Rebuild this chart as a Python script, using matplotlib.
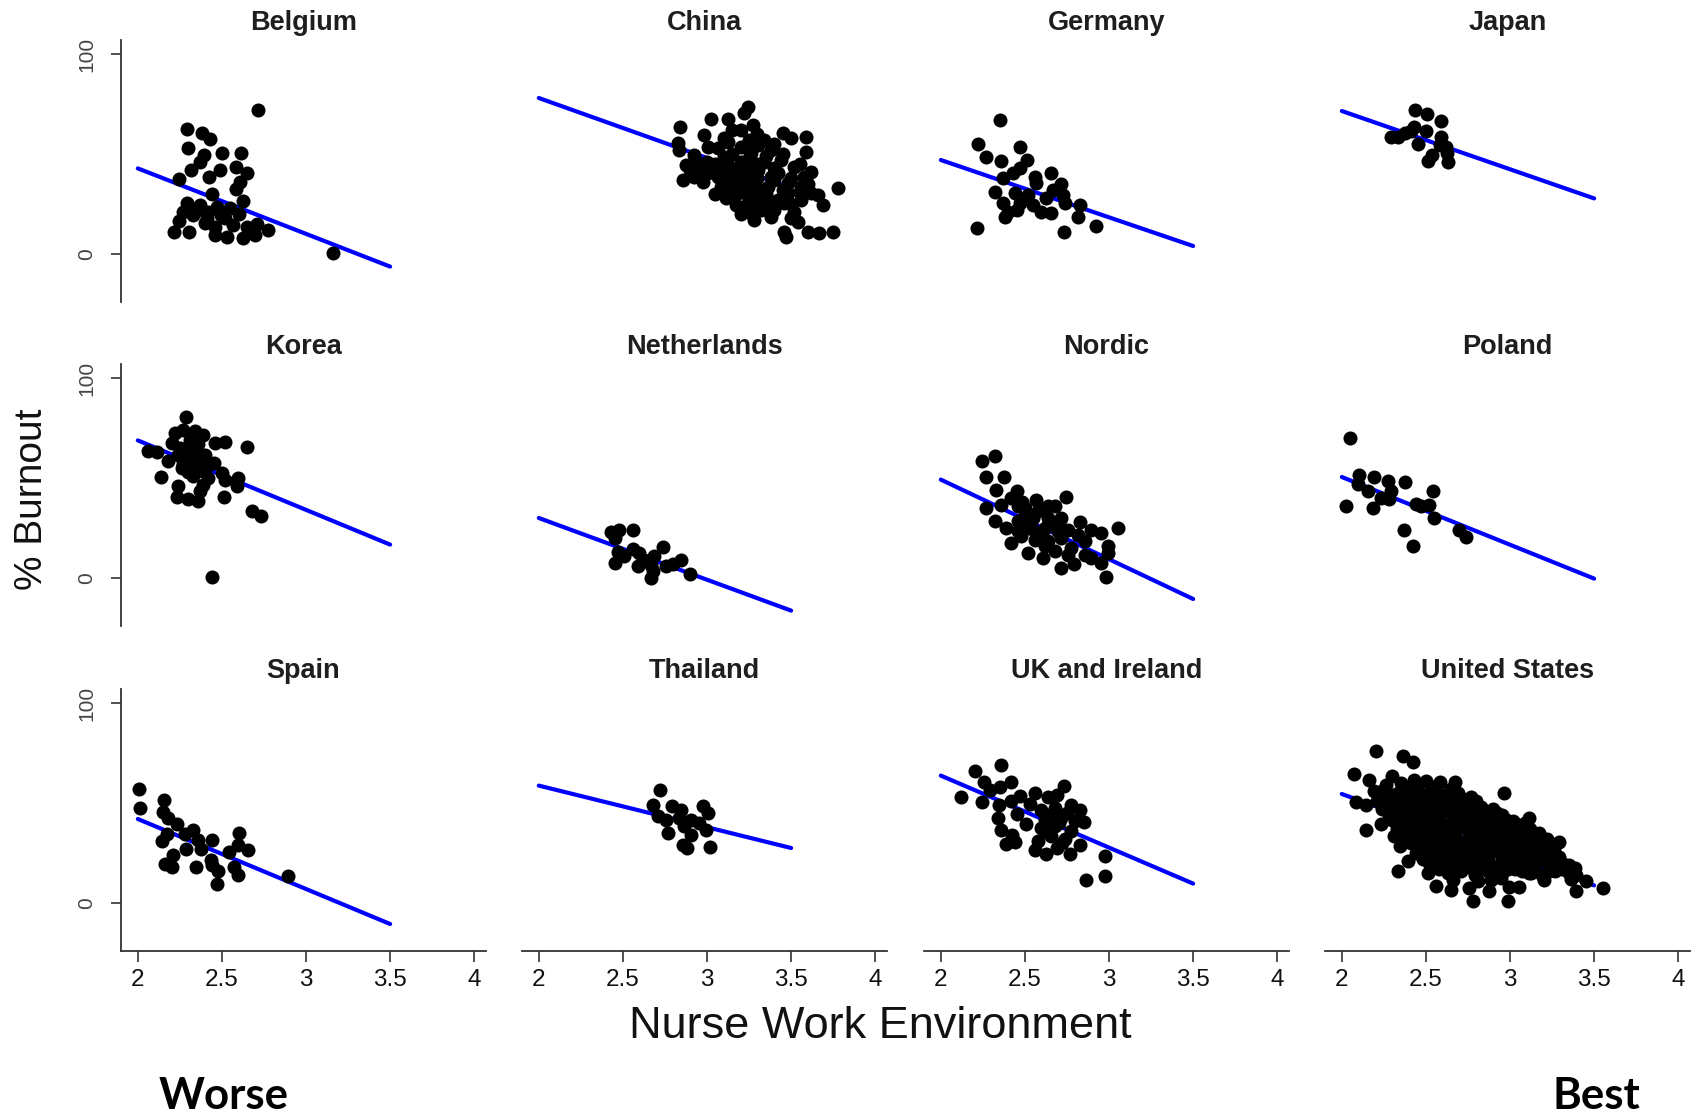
# Burnout vs nurse work environment, one panel per country

import matplotlib.pyplot as plt

countries = ['Belgium', 'China', 'Germany', 'Japan',
             'Korea', 'Netherlands', 'Nordic', 'Poland',
             'Spain', 'Thailand', 'UK and Ireland', 'United States']

belgium = [(2.717, 72), (3.162, 0.7), (2.291, 62.5), (2.384, 60.3), (2.43, 57.3),
           (2.297, 52.8), (2.396, 49.5), (2.37, 46), (2.503, 50.3), (2.614, 50.3),
           (2.317, 42), (2.242, 37.5), (2.426, 38.7), (2.489, 42), (2.582, 43.3),
           (2.648, 40.3), (2.608, 36), (2.582, 32.3), (2.44, 29.8), (2.628, 26.5),
           (2.291, 25.7), (2.37, 24.5), (2.47, 23.7), (2.549, 22.8), (2.242, 16.7),
           (2.33, 19.5), (2.41, 17.8), (2.495, 19.5), (2.218, 11.2), (2.305, 11.2),
           (2.46, 9.5), (2.53, 8.7), (2.628, 7.8), (2.697, 9.5), (2.772, 12),
           (2.568, 14.5), (2.648, 13.7), (2.707, 15), (2.46, 13.7), (2.4, 15.3),
           (2.35, 22), (2.52, 18), (2.6, 20), (2.42, 21), (2.27, 21)]

china = [(3.242, 73.7), (3.222, 70.3), (3.024, 67.3), (3.127, 67.3), (2.842, 63.7),
         (3.271, 64.5), (3.202, 62), (2.98, 59.5), (3.45, 60.3), (3.588, 58.3),
         (3.5, 57.8), (3.341, 57), (3.127, 56.2), (2.826, 55.3), (3.063, 52.8),
         (3.588, 51.2), (2.836, 52), (2.925, 49.5), (3.261, 50.3), (3.38, 52),
         (2.875, 44.5), (2.945, 45.3), (3.123, 44.5), (3.519, 43.7), (2.855, 37),
         (2.974, 36.2), (3.063, 38.7), (3.162, 40.3), (3.301, 42), (3.42, 40.3),
         (3.261, 36.2), (3.36, 33.7), (3.48, 35.3), (3.558, 33.7), (3.776, 32.8),
         (3.113, 27.8), (3.182, 30.3), (3.301, 28.7), (3.42, 27), (3.618, 30.3),
         (3.657, 29.5), (3.172, 24.5), (3.261, 20.3), (3.38, 18.7), (3.519, 21.2),
         (3.687, 24.5), (3.46, 11.2), (3.469, 8.3), (3.539, 16.2), (3.598, 11.2),
         (3.667, 10.3), (3.747, 11.2), (3.083, 33.7), (3.004, 40.3), (3.222, 45.3),
         (3.341, 46.2), (3.44, 47), (3.301, 54.5), (3.202, 53.7), (3.004, 53.7),
         (3.103, 48.7), (3.38, 38.7), (3.321, 32), (3.242, 25.3), (3.38, 23.7),
         (3.46, 25.3), (3.558, 27), (3.578, 38.7), (3.48, 30.3), (3.202, 33.7),
         (3.143, 36.2), (3.261, 41.2), (3.36, 27), (3.321, 22), (2.925, 38.7),
         (2.974, 41.2), (3.05, 45), (3.2, 46), (3.4, 43), (3.5, 38), (3.45, 50),
         (3.15, 50), (3.25, 48), (3.35, 49), (3.1, 42), (3.2, 43), (3.3, 45),
         (3.4, 37), (3.3, 38), (3.2, 38), (3.1, 37), (3.15, 31), (3.25, 33),
         (3.35, 30), (3.45, 32), (3.4, 22), (3.3, 25), (3.25, 28), (3.45, 28),
         (3.5, 25), (3.55, 31), (3.6, 35), (3.05, 30), (3.0, 46), (2.9, 42),
         (3.1, 58), (3.25, 57), (3.15, 62), (3.3, 60), (3.4, 55), (3.55, 45),
         (3.62, 41), (3.2, 20), (3.28, 17), (3.5, 18)]

germany = [(2.354, 67), (2.222, 54.8), (2.469, 53.7), (2.271, 48.7), (2.36, 46.7),
           (2.515, 47), (2.469, 42.8), (2.43, 40.7), (2.37, 37.8), (2.558, 38.7),
           (2.657, 40.3), (2.713, 35), (2.568, 35.3), (2.321, 30.8), (2.44, 30.3),
           (2.519, 29.5), (2.667, 32), (2.727, 29.5), (2.37, 25.3), (2.469, 25.3),
           (2.549, 24.5), (2.628, 27.8), (2.737, 25.7), (2.826, 24.5), (2.4, 21.2),
           (2.45, 22), (2.598, 21.2), (2.657, 20.3), (2.384, 18.7), (2.816, 18.7),
           (2.218, 12.8), (2.731, 10.8), (2.925, 14)]

japan = [(2.438, 72), (2.505, 69.8), (2.59, 66.5), (2.432, 63.3), (2.501, 61.7),
         (2.293, 58.7), (2.333, 58.3), (2.376, 60.3), (2.412, 61.7), (2.59, 58.3),
         (2.452, 55), (2.62, 53.7), (2.586, 54.5), (2.535, 49.5), (2.511, 46.5),
         (2.626, 50.3), (2.63, 46.2)]

korea = [(2.287, 80.3), (2.44, 0.3), (2.222, 72.5), (2.271, 74.2), (2.341, 73.3),
         (2.39, 71.7), (2.202, 67.5), (2.31, 69.2), (2.46, 67.5), (2.519, 68),
         (2.651, 65.3), (2.063, 63.3), (2.113, 63), (2.182, 58.7), (2.241, 61.7),
         (2.341, 63.3), (2.4, 61.7), (2.261, 55), (2.32, 58.3), (2.45, 57.5),
         (2.36, 53.3), (2.41, 55.8), (2.499, 52.5), (2.331, 50.8), (2.137, 50.3),
         (2.519, 49.2), (2.598, 50), (2.588, 45.8), (2.238, 46.2), (2.39, 46.7),
         (2.37, 43.3), (2.234, 40.3), (2.301, 39.7), (2.36, 38.7), (2.515, 40.5),
         (2.677, 33.7), (2.731, 30.8), (2.29, 65), (2.36, 67), (2.28, 60),
         (2.25, 65), (2.33, 62), (2.38, 58), (2.3, 53), (2.42, 50), (2.27, 57)]

netherlands = [(2.43, 23), (2.479, 24.2), (2.558, 23.8), (2.45, 20), (2.737, 15.5),
               (2.558, 14.7), (2.469, 13), (2.509, 10.8), (2.598, 12.5), (2.687, 10.8),
               (2.628, 9.2), (2.846, 9.2), (2.45, 7.5), (2.588, 5.8), (2.667, 6.3),
               (2.756, 5.8), (2.796, 7), (2.677, 3.3), (2.667, 0), (2.901, 2.2)]

nordic = [(2.242, 58.3), (2.321, 60.8), (2.271, 50.3), (2.376, 50.3), (2.331, 44.2),
          (2.45, 43.3), (2.271, 35), (2.568, 39.2), (2.747, 40.3), (2.36, 36.7),
          (2.459, 35.8), (2.677, 35.8), (2.321, 28.7), (2.39, 25), (2.499, 31.7),
          (2.578, 33.3), (2.638, 30), (2.717, 30), (2.826, 27.8), (2.519, 25),
          (2.618, 25), (2.757, 24.2), (2.895, 24.2), (3.053, 25), (2.955, 22.5),
          (2.42, 17.5), (2.479, 20.8), (2.558, 19.2), (2.638, 18.3), (2.713, 20),
          (2.857, 18.3), (2.994, 15.8), (2.519, 12.5), (2.608, 10), (2.677, 13.3),
          (2.776, 15), (2.855, 11.7), (2.955, 7.5), (2.895, 10), (2.717, 5),
          (2.792, 7), (2.984, 0.3), (2.994, 12.5), (2.459, 28.3), (2.539, 28.3),
          (2.638, 26.7), (2.558, 23.3), (2.697, 23.3), (2.459, 23.3), (2.618, 15.8),
          (2.757, 11.7), (2.42, 40), (2.499, 35), (2.638, 35.8), (2.816, 21.7),
          (2.55, 30), (2.6, 22), (2.7, 28), (2.48, 38)]

poland = [(2.051, 70), (2.105, 51.7), (2.19, 50.3), (2.099, 47), (2.026, 35.8),
          (2.154, 43.3), (2.273, 48.7), (2.376, 47.8), (2.293, 43.3), (2.234, 40),
          (2.184, 35), (2.283, 39.7), (2.541, 43.3), (2.442, 37), (2.521, 36.3),
          (2.471, 35.8), (2.547, 30), (2.372, 24.2), (2.426, 16.2), (2.699, 24.2),
          (2.739, 20.3)]

spain = [(2.008, 57), (2.014, 47.5), (2.158, 51.7), (2.152, 45.3), (2.182, 42.5),
         (2.232, 39.7), (2.172, 34.7), (2.143, 30.8), (2.281, 34.7), (2.331, 36.3),
         (2.36, 31.3), (2.287, 27), (2.376, 27), (2.44, 31.7), (2.212, 24.2),
         (2.162, 19.5), (2.202, 17.8), (2.347, 18), (2.436, 21.7), (2.44, 19.2),
         (2.479, 15.8), (2.469, 9.7), (2.543, 25.3), (2.602, 35), (2.598, 28.8),
         (2.653, 26.7), (2.574, 18), (2.598, 14.2), (2.891, 13.3)]

thailand = [(2.721, 56.7), (2.677, 49.2), (2.79, 48.3), (2.846, 46.7), (2.974, 48.3),
            (3.004, 45), (2.707, 43.3), (2.756, 41.7), (2.836, 42.5), (2.905, 41.7),
            (2.954, 40), (2.865, 38.3), (2.994, 36.7), (2.77, 35), (2.905, 34.2),
            (2.855, 29.2), (2.879, 27.5), (3.02, 28)]

uk_ireland = [(2.356, 68.8), (2.206, 66.2), (2.257, 60.3), (2.42, 60.3), (2.351, 58),
              (2.117, 53), (2.291, 56.7), (2.731, 58.7), (2.558, 55), (2.469, 53.3),
              (2.638, 53), (2.693, 54.2), (2.242, 50.3), (2.347, 48.8), (2.42, 50.8),
              (2.53, 49.7), (2.771, 49.2), (2.45, 44.7), (2.598, 46.7), (2.677, 47.5),
              (2.826, 46.3), (2.341, 42.5), (2.509, 39.5), (2.618, 41.7), (2.717, 42.5),
              (2.796, 40.8), (2.851, 40.3), (2.36, 36.3), (2.424, 34.2), (2.598, 37.5),
              (2.677, 38.3), (2.776, 35.8), (2.39, 29.5), (2.44, 30.3), (2.578, 31.2),
              (2.657, 33.3), (2.737, 32), (2.826, 28.8), (2.558, 26.7), (2.628, 24.7),
              (2.693, 27.5), (2.766, 24.5), (2.978, 23.3), (2.865, 11.7), (2.974, 13.3),
              (2.64, 44), (2.7, 40), (2.75, 45), (2.62, 36), (2.72, 30)]

united_states = [
    (2.204, 76.2), (2.362, 73.3), (2.426, 70.3), (2.071, 64.7), (2.164, 61.7),
    (2.297, 63.3), (2.432, 61.7), (2.586, 60.3), (2.673, 60.3), (2.962, 55),
    (2.085, 50.3), (2.145, 49.2), (2.194, 55.8), (2.333, 55), (3.115, 42.5),
    (2.145, 36.7), (2.234, 39.7), (3.293, 30.3), (3.174, 35), (3.046, 39.2),
    (2.313, 33.7), (2.343, 28.3), (2.333, 15.8), (2.392, 20.8), (2.511, 15),
    (2.56, 8.3), (2.661, 11.7), (2.651, 6.3), (2.778, 0.8), (2.758, 7.5),
    (2.808, 10.8), (2.877, 5.8), (2.986, 0.8), (3.055, 8), (2.996, 8),
    (3.125, 15), (3.204, 11.7), (3.386, 17.5), (3.392, 5.8), (3.451, 10.8),
    (3.551, 7.5), (2.947, 12.5), (2.887, 11.7), (3.244, 20), (3.362, 12),
    (2.24, 56), (2.31, 54), (2.38, 57), (2.46, 55), (2.53, 56), (2.61, 54),
    (2.69, 55), (2.77, 53), (2.21, 51), (2.29, 49), (2.36, 51), (2.44, 50),
    (2.51, 48), (2.59, 51), (2.67, 49), (2.75, 50), (2.83, 48), (2.90, 47),
    (2.27, 46), (2.34, 44), (2.42, 46), (2.49, 45), (2.57, 43), (2.64, 46),
    (2.72, 44), (2.80, 45), (2.87, 43), (2.95, 44), (3.02, 41), (2.31, 41),
    (2.39, 39), (2.46, 40), (2.54, 41), (2.62, 39), (2.69, 40), (2.77, 38),
    (2.85, 41), (2.93, 39), (3.01, 37), (3.09, 40), (2.37, 36), (2.45, 34),
    (2.52, 36), (2.60, 35), (2.67, 33), (2.75, 36), (2.83, 34), (2.91, 35),
    (2.99, 33), (3.07, 35), (3.15, 34), (3.22, 32), (2.41, 30), (2.49, 31),
    (2.56, 29), (2.64, 31), (2.72, 30), (2.79, 28), (2.87, 31), (2.95, 29),
    (3.03, 30), (3.11, 28), (3.19, 30), (3.26, 27), (2.44, 25), (2.51, 26),
    (2.59, 24), (2.67, 26), (2.74, 25), (2.82, 23), (2.90, 26), (2.97, 24),
    (3.05, 25), (3.13, 23), (3.21, 25), (3.29, 23), (2.52, 20), (2.60, 21),
    (2.68, 19), (2.75, 21), (2.83, 20), (2.91, 18), (2.99, 21), (3.07, 19),
    (3.15, 20), (3.23, 18), (3.31, 20), (2.63, 15), (2.71, 16), (2.79, 14),
    (2.87, 16), (2.95, 15), (3.03, 17), (3.11, 15), (3.19, 14), (3.27, 16),
    (3.35, 15),
    (2.26, 52), (2.34, 52), (2.42, 53), (2.50, 52), (2.57, 52), (2.64, 51),
    (2.72, 52), (2.80, 51), (2.24, 47), (2.31, 47), (2.39, 48), (2.46, 47),
    (2.54, 47), (2.61, 48), (2.69, 47), (2.77, 47), (2.85, 46), (2.92, 45),
    (2.28, 42), (2.35, 42), (2.43, 43), (2.50, 42), (2.58, 42), (2.66, 43),
    (2.73, 42), (2.81, 42), (2.89, 41), (2.97, 42), (3.05, 39), (2.33, 37),
    (2.41, 37), (2.48, 38), (2.56, 37), (2.64, 37), (2.71, 38), (2.79, 37),
    (2.87, 37), (2.95, 37), (3.04, 36), (3.12, 37), (2.38, 32), (2.45, 32),
    (2.53, 33), (2.60, 32), (2.68, 32), (2.76, 33), (2.84, 32), (2.91, 32),
    (2.99, 31), (3.07, 32), (3.15, 31), (3.23, 30), (2.46, 27), (2.55, 27),
    (2.63, 28), (2.70, 27), (2.78, 26), (2.86, 27), (2.93, 27), (3.01, 27),
    (3.09, 26), (3.17, 27), (3.25, 25), (2.48, 22), (2.56, 23), (2.64, 22),
    (2.71, 23), (2.79, 22), (2.87, 22), (2.95, 22), (3.03, 22), (3.11, 21),
    (3.19, 22), (3.27, 21), (3.35, 19), (2.58, 17), (2.66, 17), (2.75, 18),
    (2.83, 17), (2.91, 16), (2.99, 17), (3.07, 16), (3.15, 17), (3.23, 16),
    (3.31, 17), (3.39, 14), (2.26, 59), (2.35, 60), (2.45, 59), (2.55, 58),
    (2.65, 57), (2.50, 61)]

# linear fit, drawn from x=2 to x=3.5
fit_x = [2.0, 3.5]
fit_start = [42.8, 78.0, 47.0, 71.5, 68.8, 30.0, 49.2, 50.5, 42.0, 58.7, 63.7, 54.5]
fit_end = [-6.3, 33.0, 4.0, 27.8, 16.7, -16.3, -10.5, -0.3, -10.5, 27.5, 9.7, 8.8]

xticks = [2, 2.5, 3, 3.5, 4]
xticklabels = ['2', '2.5', '3', '3.5', '4']
yticks = [0, 100]


def main():
    plt.rcParams['font.family'] = ['Liberation Sans', 'DejaVu Sans']

    data = [belgium, china, germany, japan, korea, netherlands, nordic, poland,
            spain, thailand, uk_ireland, united_states]

    W, H = 1700., 1114.
    fig = plt.figure(figsize=(17, 11.14), dpi=100)

    lefts = [121, 522, 924, 1325]
    tops = [40, 364, 689]
    pw, ph = 365, 262.4

    for i, name in enumerate(countries):
        r, c = divmod(i, 4)
        ax = fig.add_axes([lefts[c] / W, 1 - (tops[r] + ph) / H, pw / W, ph / H])

        xs = [p[0] for p in data[i]]
        ys = [p[1] for p in data[i]]
        ax.plot(fit_x, [fit_start[i], fit_end[i]], color='#0000ff', lw=3.0,
                solid_capstyle='round', zorder=2)
        ax.scatter(xs, ys, s=102, color='black', linewidths=0, zorder=3)

        ax.set_xlim(1.9, 4.07)
        ax.set_ylim(-24.2, 107)

        for s in ['top', 'right']:
            ax.spines[s].set_visible(False)
        for s in ['left', 'bottom']:
            ax.spines[s].set_color('#333333')
            ax.spines[s].set_linewidth(1.3)

        if c == 0:
            ax.set_yticks(yticks)
            ax.set_yticklabels([str(t) for t in yticks], rotation=90, va='center')
            ax.tick_params(axis='y', length=7, width=1.2, color='#333333',
                           pad=11, labelsize=15, labelcolor='#444444')
        else:
            ax.spines['left'].set_visible(False)
            ax.set_yticks([])

        if r == 2:
            ax.set_xticks(xticks)
            ax.set_xticklabels(xticklabels)
            ax.tick_params(axis='x', length=8, width=1.2, color='#333333',
                           pad=5, labelsize=17.5, labelcolor='#111111')
        else:
            ax.spines['bottom'].set_visible(False)
            ax.set_xticks([])

        ax.text(0.5, 1 + 17.5 / ph, name, transform=ax.transAxes, ha='center',
                va='center', fontsize=19.5, fontweight='bold', color='#1e1e1e')

    fig.text(32 / W, 1 - 499 / H, '% Burnout', rotation=90, ha='center',
             va='center', fontsize=28, color='#111111')
    fig.text(880 / W, 1 - 1026 / H, 'Nurse Work Environment', ha='center',
             va='center', fontsize=32.5, color='#111111')
    fig.text(224 / W, 1 - 1096 / H, 'Worse', ha='center', va='center',
             fontsize=31.5, fontweight='bold', family=['Lato', 'DejaVu Sans'])
    fig.text(1596 / W, 1 - 1096 / H, 'Best', ha='center', va='center',
             fontsize=31.5, fontweight='bold', family=['Lato', 'DejaVu Sans'])

    fig.savefig('out.png', dpi=100)


if __name__ == "__main__":
    main()
